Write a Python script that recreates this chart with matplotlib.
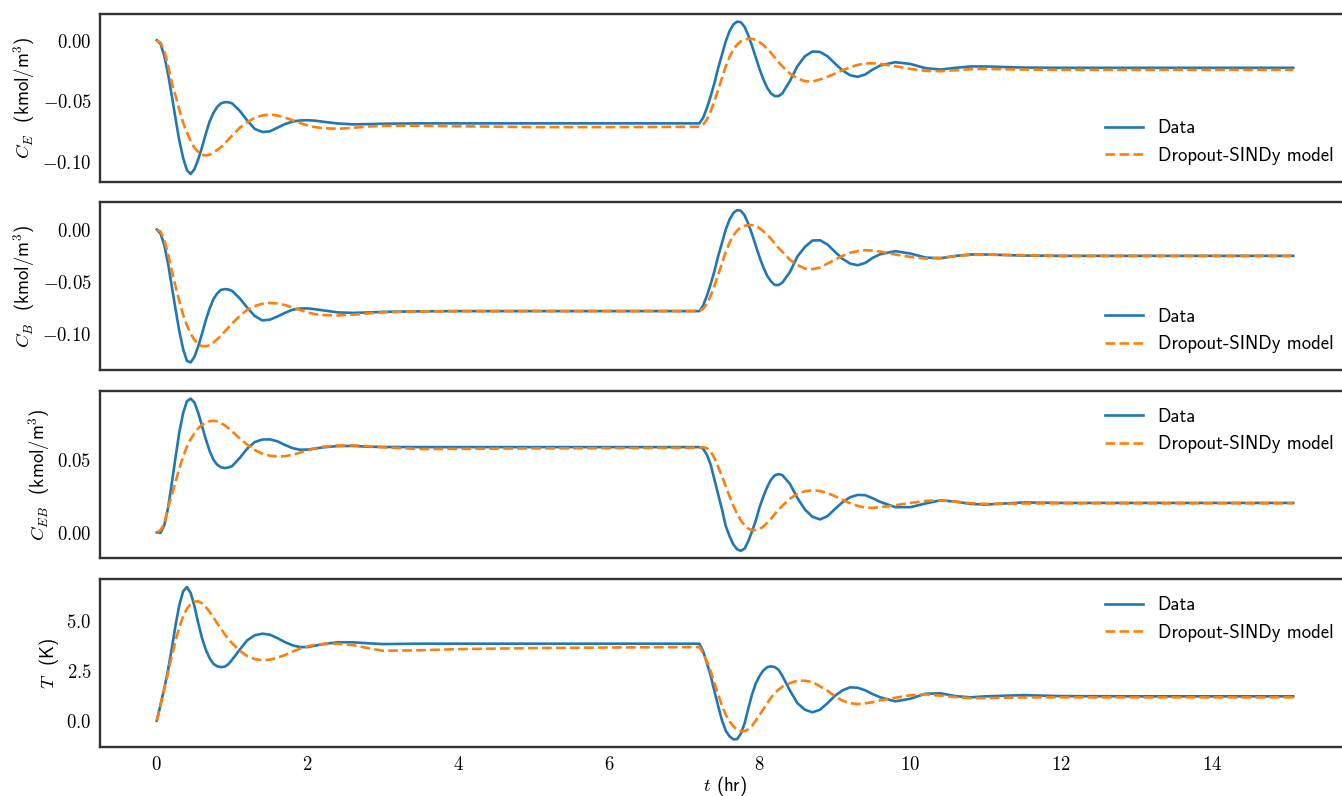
import matplotlib
matplotlib.use('Agg')
import matplotlib.pyplot as plt
from matplotlib.ticker import MultipleLocator, FuncFormatter

# time grid (hr): dense through the two transients, sparse on the plateaus
t_hr = [0.00, 0.05, 0.10, 0.15, 0.20, 0.25, 0.30, 0.35, 0.40, 0.45, 0.50,
        0.55, 0.60, 0.65, 0.70, 0.75, 0.80, 0.85, 0.90, 0.95, 1.00,
        1.1, 1.2, 1.3, 1.4, 1.5, 1.6, 1.7, 1.8, 1.9, 2.0, 2.1, 2.2,
        2.4, 2.6, 2.8, 3.0, 3.5, 4.0, 5.0, 6.0, 7.0, 7.2,
        7.25, 7.30, 7.35, 7.40, 7.45, 7.50, 7.55, 7.60, 7.65, 7.70, 7.75,
        7.80, 7.85, 7.90, 7.95, 8.00, 8.05, 8.10, 8.15, 8.20, 8.25, 8.30,
        8.4, 8.5, 8.6, 8.7, 8.8, 8.9, 9.0, 9.1, 9.2, 9.3, 9.4, 9.5, 9.6,
        9.8, 10.0, 10.2, 10.4, 10.6, 10.8, 11.0, 11.5, 12.0, 13.0, 14.0, 15.08]

# C_E (kmol/m^3)
ce_data = [0, -0.003, -0.013, -0.028, -0.046, -0.065, -0.083, -0.097, -0.107, -0.110, -0.106,
           -0.098, -0.088, -0.077, -0.067, -0.060, -0.055, -0.052, -0.051, -0.051, -0.052,
           -0.058, -0.066, -0.073, -0.0755, -0.075, -0.072, -0.069, -0.067, -0.066, -0.0658, -0.0662, -0.067,
           -0.0685, -0.0692, -0.069, -0.0687, -0.0684, -0.0684, -0.0684, -0.0684, -0.0684, -0.0684,
           -0.0638, -0.0556, -0.0460, -0.0351, -0.0227, -0.0118, -0.0008, 0.0074, 0.0129, 0.0153, 0.0148,
           0.0110, 0.0038, -0.0049, -0.0145, -0.0241, -0.0323, -0.0392, -0.0438, -0.0460, -0.0460, -0.0438,
           -0.0337, -0.0214, -0.0132, -0.0093, -0.0096, -0.0132, -0.0192, -0.0249, -0.0288, -0.0301, -0.0282, -0.0241, -0.0208,
           -0.0181, -0.0195, -0.0230, -0.0241, -0.0227, -0.0216, -0.0216, -0.0225, -0.0227, -0.0227, -0.0227, -0.0227]
ce_model = [0, -0.002, -0.009, -0.021, -0.0353, -0.046, -0.0575, -0.068, -0.076, -0.083, -0.0885,
            -0.092, -0.0942, -0.0948, -0.0942, -0.0926, -0.0904, -0.088, -0.085, -0.0816, -0.0784,
            -0.072, -0.0674, -0.0638, -0.0619, -0.0611, -0.0619, -0.0636, -0.0658, -0.068, -0.0701, -0.0715, -0.0723,
            -0.0729, -0.0721, -0.071, -0.0704, -0.0704, -0.0708, -0.0715, -0.0715, -0.0713, -0.0712,
            -0.0693, -0.0652, -0.0584, -0.0501, -0.0405, -0.0310, -0.0214, -0.0137, -0.0077, -0.0036, -0.0008,
            0.0005, 0.0011, 0.0011, 0.0003, -0.0016, -0.0041, -0.0071, -0.0104, -0.0142, -0.0181, -0.0214,
            -0.0274, -0.0315, -0.0337, -0.0340, -0.0323, -0.0301, -0.0274, -0.0247, -0.0222, -0.0203, -0.0192, -0.0189, -0.0195,
            -0.0214, -0.0236, -0.0252, -0.0255, -0.0247, -0.0238, -0.0236, -0.0241, -0.0244, -0.0244, -0.0244, -0.0244]

# C_B (kmol/m^3)
cb_data = [0, -0.004, -0.015, -0.033, -0.055, -0.077, -0.098, -0.115, -0.126, -0.1275, -0.122,
           -0.112, -0.100, -0.087, -0.076, -0.067, -0.0615, -0.058, -0.0572, -0.0575, -0.059,
           -0.066, -0.075, -0.083, -0.0872, -0.0865, -0.0835, -0.080, -0.077, -0.0758, -0.0757, -0.0765, -0.0775,
           -0.0795, -0.0800, -0.0796, -0.0790, -0.0785, -0.0783, -0.0783, -0.0783, -0.0783, -0.0783,
           -0.0730, -0.0635, -0.0524, -0.0397, -0.0254, -0.0128, 0.0000, 0.0095, 0.0158, 0.0186, 0.0180,
           0.0136, 0.0053, -0.0048, -0.0159, -0.0270, -0.0365, -0.0445, -0.0498, -0.0532, -0.0533, -0.0510,
           -0.041, -0.026, -0.0167, -0.0106, -0.0103, -0.0144, -0.0215, -0.0282, -0.0327, -0.0343, -0.0321, -0.0272, -0.0237,
           -0.0208, -0.0231, -0.0269, -0.0276, -0.0253, -0.0240, -0.0240, -0.0250, -0.0253, -0.0253, -0.0253, -0.0253]
cb_model = [0, -0.002, -0.010, -0.024, -0.040, -0.055, -0.069, -0.082, -0.092, -0.100, -0.106,
            -0.110, -0.1118, -0.112, -0.111, -0.1085, -0.1055, -0.102, -0.098, -0.094, -0.090,
            -0.083, -0.077, -0.0735, -0.0712, -0.0705, -0.0710, -0.0725, -0.0748, -0.0772, -0.0795, -0.0812, -0.0820,
            -0.0825, -0.0818, -0.0805, -0.0795, -0.0785, -0.0783, -0.0782, -0.0782, -0.0782, -0.0782,
            -0.0760, -0.0714, -0.0636, -0.0541, -0.0432, -0.0324, -0.0214, -0.0126, -0.0058, -0.0011, 0.0021,
            0.0035, 0.0042, 0.0042, 0.0033, 0.0011, -0.0017, -0.0051, -0.0089, -0.0132, -0.0177, -0.0214,
            -0.029, -0.034, -0.0375, -0.038, -0.0365, -0.0327, -0.0288, -0.0253, -0.0224, -0.0208, -0.0199, -0.0202, -0.0212,
            -0.0240, -0.0263, -0.0279, -0.0272, -0.0256, -0.0244, -0.0240, -0.0247, -0.0253, -0.0253, -0.0253, -0.0253]

# C_EB (kmol/m^3)
ceb_data = [0, -0.0003, 0.005, 0.017, 0.034, 0.052, 0.069, 0.082, 0.090, 0.0918, 0.089,
            0.082, 0.073, 0.064, 0.056, 0.050, 0.0465, 0.0447, 0.0441, 0.0445, 0.0455,
            0.051, 0.0575, 0.062, 0.0637, 0.0638, 0.0625, 0.060, 0.0578, 0.0567, 0.0568, 0.0575, 0.0583,
            0.0592, 0.0593, 0.0588, 0.0586, 0.0585, 0.0585, 0.0585, 0.0585, 0.0585, 0.0585,
            0.0573, 0.0532, 0.0464, 0.0361, 0.0259, 0.0157, 0.0043, -0.0025, -0.0082, -0.0116, -0.0127,
            -0.0111, -0.0059, 0.0009, 0.0084, 0.0175, 0.0248, 0.0311, 0.0361, 0.0391, 0.0400, 0.0393,
            0.0334, 0.0236, 0.0157, 0.0107, 0.0089, 0.0111, 0.0161, 0.0207, 0.0241, 0.0257, 0.0255, 0.0234, 0.0209,
            0.0173, 0.0173, 0.0198, 0.0220, 0.0211, 0.0195, 0.0191, 0.0205, 0.0202, 0.0202, 0.0202, 0.0202]
ceb_model = [0, 0.0015, 0.006, 0.017, 0.026, 0.035, 0.044, 0.052, 0.059, 0.064, 0.068,
             0.0715, 0.0738, 0.0752, 0.0762, 0.0766, 0.0762, 0.075, 0.0735, 0.0715, 0.0692,
             0.0645, 0.0602, 0.0565, 0.054, 0.0526, 0.052, 0.0523, 0.0532, 0.0547, 0.0563, 0.0577, 0.0587,
             0.0596, 0.0597, 0.0592, 0.0583, 0.0572, 0.0573, 0.0576, 0.0578, 0.0580, 0.0580,
             0.0585, 0.0577, 0.0555, 0.0509, 0.0448, 0.0384, 0.0316, 0.0248, 0.0184, 0.0127, 0.0082,
             0.0048, 0.0025, 0.0016, 0.0014, 0.0023, 0.0041, 0.0066, 0.0093, 0.0125, 0.0155, 0.0182,
             0.0230, 0.0264, 0.0282, 0.0289, 0.0284, 0.0270, 0.0248, 0.0223, 0.0200, 0.0182, 0.0170, 0.0168, 0.0173,
             0.0186, 0.0202, 0.0216, 0.0220, 0.0211, 0.0200, 0.0195, 0.0198, 0.0200, 0.0200, 0.0200, 0.0200]

# T (K)
temp_data = [0, 0.8, 1.63, 2.55, 3.63, 4.8, 5.8, 6.47, 6.68, 6.38, 5.72,
             4.88, 4.13, 3.55, 3.13, 2.85, 2.72, 2.68, 2.70, 2.83, 3.05,
             3.55, 4.02, 4.27, 4.35, 4.30, 4.13, 3.93, 3.77, 3.68, 3.68, 3.75, 3.83,
             3.92, 3.92, 3.87, 3.83, 3.85, 3.85, 3.85, 3.85, 3.85, 3.85,
             3.47, 2.88, 2.25, 1.47, 0.72, 0.02, -0.50, -0.78, -0.93, -0.92, -0.65,
             -0.12, 0.63, 1.33, 1.88, 2.25, 2.52, 2.67, 2.72, 2.68, 2.55, 2.25,
             1.52, 0.88, 0.55, 0.42, 0.55, 0.88, 1.25, 1.52, 1.67, 1.65, 1.52, 1.33, 1.17,
             0.97, 1.10, 1.35, 1.37, 1.23, 1.17, 1.22, 1.28, 1.23, 1.22, 1.22, 1.22]
temp_model = [0, 0.8, 1.58, 2.42, 3.25, 4.02, 4.68, 5.22, 5.60, 5.83, 5.95,
              5.97, 5.87, 5.68, 5.45, 5.17, 4.88, 4.60, 4.33, 4.08, 3.87,
              3.50, 3.23, 3.08, 3.02, 3.05, 3.15, 3.28, 3.45, 3.60, 3.72, 3.80, 3.83,
              3.85, 3.78, 3.63, 3.50, 3.52, 3.58, 3.63, 3.66, 3.68, 3.68,
              3.38, 2.97, 2.47, 1.88, 1.30, 0.75, 0.30, -0.03, -0.28, -0.45, -0.52,
              -0.52, -0.42, -0.25, 0.02, 0.30, 0.58, 0.88, 1.15, 1.38, 1.55, 1.70,
              1.88, 2.00, 2.00, 1.93, 1.72, 1.50, 1.22, 1.00, 0.88, 0.83, 0.87, 0.93, 1.02,
              1.15, 1.27, 1.32, 1.25, 1.18, 1.13, 1.13, 1.17, 1.17, 1.17, 1.17, 1.17]

y_labels = [r'$C_E$  (kmol/m$^3$)', r'$C_B$  (kmol/m$^3$)',
            r'$C_{EB}$  (kmol/m$^3$)', r'$T$  (K)']
legend_locs = ['lower right', 'lower right', 'upper right', 'upper right']

plt.rcParams['mathtext.fontset'] = 'cm'
plt.rcParams['axes.edgecolor'] = '0.2'
plt.rcParams['axes.linewidth'] = 1.7

SANS = 'cmss10'
FS = 13.5


def math_fmt(fmt):
    def f(v, pos):
        if abs(v) < 1e-9:
            v = 0.0
        return '$' + (fmt % v) + '$'
    return FuncFormatter(f)


fig, axes = plt.subplots(4, 1, sharex=True, figsize=(13.42, 7.96), dpi=100)
# the right spine sits just past the figure edge
fig.subplots_adjust(left=0.0745, right=1.006, top=0.9824, bottom=0.0616, hspace=0.125)

series = [(ce_data, ce_model), (cb_data, cb_model), (ceb_data, ceb_model), (temp_data, temp_model)]

for i, ax in enumerate(axes):
    data, model = series[i]
    ax.plot(t_hr, data, color='#1f77b4', lw=1.9, label='Data')
    ax.plot(t_hr, model, color='#ff7f0e', lw=1.9, ls='--', label='Dropout-SINDy model')
    ax.set_ylabel(y_labels[i], fontsize=FS, family=SANS)
    ax.tick_params(length=0, labelsize=FS, pad=6)
    if i < 3:
        ax.yaxis.set_major_locator(MultipleLocator(0.05))
        ax.yaxis.set_major_formatter(math_fmt('%.2f'))
    else:
        ax.yaxis.set_major_locator(MultipleLocator(2.5))
        ax.yaxis.set_major_formatter(math_fmt('%.1f'))
    ax.legend(loc=legend_locs[i], frameon=False, prop={'family': SANS, 'size': FS})

axes[-1].xaxis.set_major_locator(MultipleLocator(2))
axes[-1].xaxis.set_major_formatter(math_fmt('%d'))
axes[-1].set_xlabel(r'$t$ (hr)', fontsize=FS, family=SANS, labelpad=0)

fig.savefig('out.png', dpi=100)
